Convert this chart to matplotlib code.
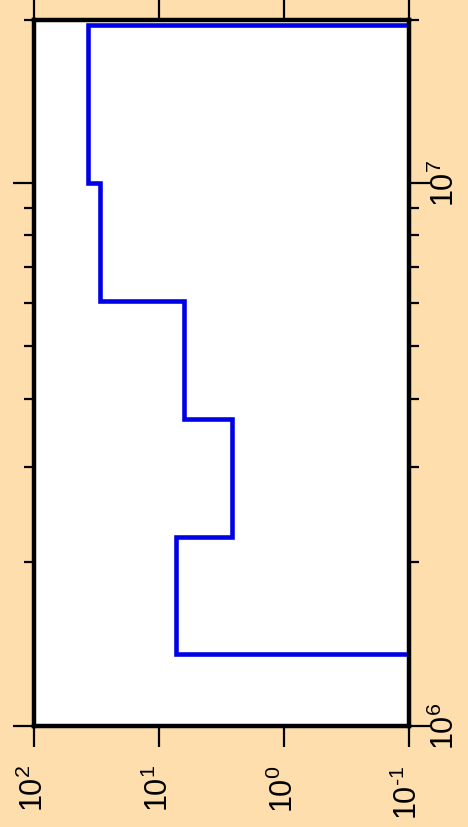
import numpy as np
import matplotlib
matplotlib.use("Agg")
import matplotlib.pyplot as plt
from matplotlib.ticker import LogLocator, NullLocator, NullFormatter, FuncFormatter

plt.rcParams["font.family"] = ["Liberation Sans", "DejaVu Sans"]
plt.rcParams["mathtext.fontset"] = "custom"
plt.rcParams["mathtext.rm"] = "Liberation Sans"
plt.rcParams["mathtext.it"] = "Liberation Sans:italic"

# band edges (Hz) and level in each band; outer bands sit below the plotted range
FREQ_EDGES = [8.0e5, 1.354e6, 2.227e6, 3.67e6, 6.06e6, 1.0e7, 1.956e7, 2.5e7]
LEVELS = [1e-2, 7.36, 2.62, 6.35, 29.9, 36.9, 1e-2]

BG = "#ffdead"
LINE = "#0000e6"


def pow10(v, pos):
    e = int(round(np.log10(v)))
    # short hyphen for negative exponents, not the wide math minus
    exp = r"\text{-}" + str(-e) if e < 0 else str(e)
    return r"$10^{" + exp + "}$"


fig = plt.figure(figsize=(4.68, 8.28), dpi=100, facecolor=BG)
ax = fig.add_axes([34.3 / 468, 1 - 726.5 / 828, 374.4 / 468, 706 / 828])
ax.set_facecolor("white")

ax.stairs(LEVELS, FREQ_EDGES, orientation="horizontal", baseline=None,
          color=LINE, lw=3.3)

ax.set_xscale("log")
ax.set_yscale("log")
ax.set_xlim(1e2, 1e-1)
ax.set_ylim(1e6, 2e7)

ax.xaxis.set_major_locator(LogLocator(base=10))
ax.xaxis.set_minor_locator(NullLocator())
ax.xaxis.set_major_formatter(FuncFormatter(pow10))
ax.yaxis.set_major_locator(LogLocator(base=10))
ax.yaxis.set_minor_locator(LogLocator(base=10, subs=np.arange(2, 10)))
ax.yaxis.set_minor_formatter(NullFormatter())
ax.yaxis.set_major_formatter(FuncFormatter(pow10))

for s in ax.spines.values():
    s.set_linewidth(3.2)
    s.set_color("black")

ax.tick_params(axis="x", which="major", direction="out", length=15, width=1.6,
               top=True, bottom=True, labeltop=False, labelbottom=True,
               labelsize=22, labelrotation=90, pad=13)
ax.tick_params(axis="y", which="major", direction="out", length=15, width=1.6,
               left=True, right=True, labelleft=False, labelright=True,
               labelsize=22, labelrotation=90, pad=0)
ax.tick_params(axis="y", which="minor", direction="out", length=7, width=1.6,
               left=True, right=True)
for t in ax.get_yticklabels():
    t.set_verticalalignment("center")

fig.savefig("out.png", dpi=100, facecolor=BG)
